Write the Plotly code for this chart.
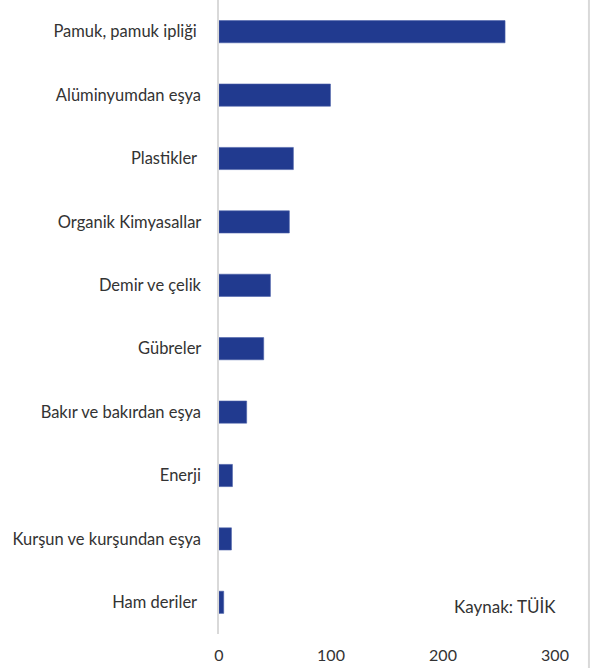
import plotly.graph_objects as go

categories = ["Pamuk, pamuk ipliği ", "Alüminyumdan eşya", "Plastikler ", "Organik Kimyasallar",
              "Demir ve çelik", "Gübreler", "Bakır ve bakırdan eşya", "Enerji",
              "Kurşun ve kurşundan eşya", "Ham deriler "]
values = [255.4, 99.5, 66.4, 62.8, 45.9, 39.9, 24.7, 12.0, 11.1, 4.2]
x_ticks = [0, 100, 200, 300]

font_family = "Lato, 'Open Sans', sans-serif"

fig = go.Figure(go.Bar(
    x=values, y=categories, orientation="h",
    marker=dict(color="#213a8f", line=dict(color="#4a5fa8", width=0.6)),
    width=0.35,
))

fig.update_layout(
    width=593, height=668,
    margin=dict(l=219, r=38, t=0, b=34),
    plot_bgcolor="white", paper_bgcolor="white",
    showlegend=False,
    font=dict(family=font_family, size=16.5, color="#333333"),
    xaxis=dict(range=[0, 300], tickvals=x_ticks, showgrid=False, zeroline=False,
               showline=False, ticks="", ticklen=0, ticklabelstandoff=10,
               tickfont=dict(size=16, color="#333333")),
    yaxis=dict(autorange="reversed", showgrid=False, zeroline=False,
               showline=True, linecolor="#d9d9d9", linewidth=2,
               ticks="", ticksuffix="   ", tickfont=dict(size=16.5, color="#333333")),
    annotations=[dict(text="Kaynak: TÜİK", xref="paper", yref="paper",
                      x=0.851, y=0.044, xanchor="center", yanchor="middle",
                      showarrow=False,
                      font=dict(size=17, color="#333333"))],
    shapes=[dict(type="line", xref="paper", yref="paper", x0=1.101, x1=1.101, y0=-0.06, y1=1.0,
                 line=dict(color="#d9d9d9", width=2))],
)

fig.write_html("out.html", config={"displayModeBar": False},
               post_script="document.body.style.margin='0';")
